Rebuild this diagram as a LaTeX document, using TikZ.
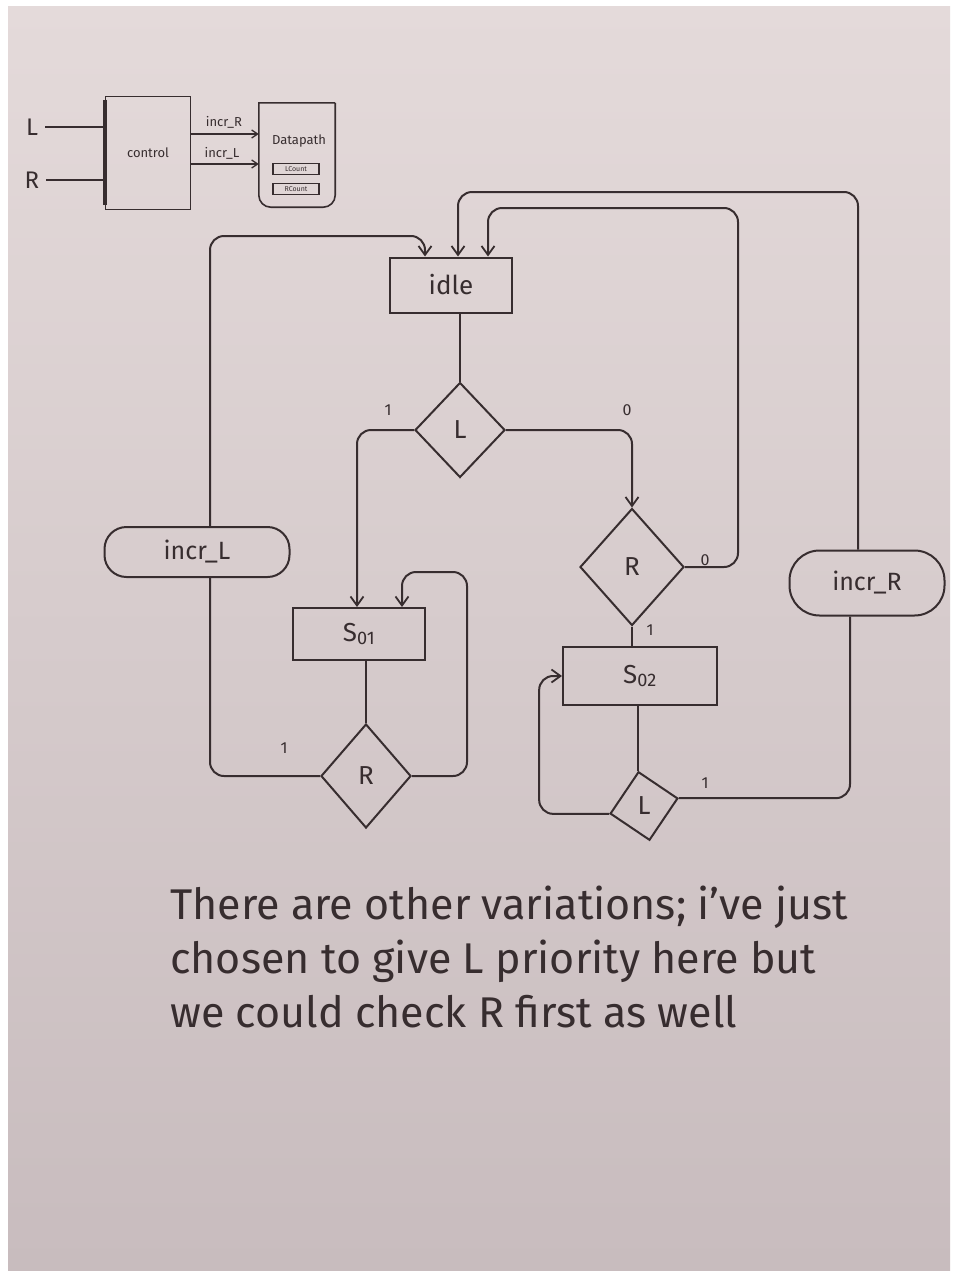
\documentclass[tikz,border=0pt]{standalone}
\usepackage{fontspec}
\setmainfont{Fira Sans}
\usetikzlibrary{arrows.meta,shapes.geometric,calc}
\definecolor{ink}{RGB}{55,45,47}
\definecolor{papertop}{RGB}{228,218,218}
\definecolor{paperbot}{RGB}{200,188,190}
\begin{document}
\begin{tikzpicture}[x=1pt,y=-1pt,
  conn/.style={draw=ink, line width=2pt, rounded corners=14pt},
  arr/.style={conn, -{Straight Barb[length=9pt,width=13pt,line width=1.8pt]}},
  arrsmall/.style={draw=ink, line width=1.5pt, -{Straight Barb[length=6pt,width=8pt,line width=1.3pt]}},
  state/.style={draw=ink, line width=2pt, rectangle, inner sep=0pt, text=ink, font=\fontsize{26}{30}\selectfont},
  dec/.style={draw=ink, line width=2pt, diamond, inner sep=0pt, text=ink, font=\fontsize{26}{30}\selectfont},
  cond/.style={draw=ink, line width=2pt, rectangle, rounded corners=22pt, inner sep=0pt, text=ink, font=\fontsize{25}{30}\selectfont},
  lbl/.style={text=ink, font=\fontsize{16}{18}\selectfont, inner sep=1pt},
  small/.style={text=ink, font=\fontsize{13}{15}\selectfont, inner sep=1pt}
]
\useasboundingbox (0,0) rectangle (954,1274);
\fill[white] (0,0) rectangle (954,1274);
\shade[top color=papertop, bottom color=paperbot] (8,6) rectangle (950,1270);

% ---------- top-left block diagram ----------
\node[draw=ink, line width=1.6pt, minimum width=85, minimum height=113, inner sep=0pt, small] (ctrl) at (148,153) {control};
\draw[ink, line width=4pt] ([yshift=-4]ctrl.north west) -- ([yshift=5]ctrl.south west);
\node[text=ink, font=\fontsize{24}{28}\selectfont, inner sep=1pt] (Lin) at (32,127) {L};
\node[text=ink, font=\fontsize{24}{28}\selectfont, inner sep=1pt] (Rin) at (32,180) {R};
\draw[draw=ink, line width=1.6pt] ([xshift=6]Lin.east) -- (Lin.east -| ctrl.west);
\draw[draw=ink, line width=1.6pt] ([xshift=6]Rin.east) -- (Rin.east -| ctrl.west);

\node[minimum width=76, minimum height=104, inner sep=0pt] (dp) at (297,155) {};
\draw[draw=ink, line width=1.6pt] (dp.north east) -- (dp.north west) [rounded corners=12pt] -- (dp.south west) -- (dp.south east) -- (dp.north east);
\node[small] (dpt) at (299,141) {Datapath};
\node[draw=ink, line width=1.2pt, minimum width=46, minimum height=11, inner sep=0pt, text=ink, font=\fontsize{7}{8}\selectfont] (lc) at (296,169) {LCount};
\node[draw=ink, line width=1.2pt, minimum width=46, minimum height=11, inner sep=0pt, text=ink, font=\fontsize{7}{8}\selectfont] (rc) at (296,189) {RCount};

\draw[arrsmall] (ctrl.east |- 0,134) -- (dp.west |- 0,134);
\draw[arrsmall] (ctrl.east |- 0,164) -- (dp.west |- 0,164);
\node[small] (lr) at (224,122) {incr\_R};
\node[small] (ll) at (222,153) {incr\_L};

% ---------- ASM chart ----------
\node[state, minimum width=122, minimum height=55] (idle) at (451,285) {idle};
\node[dec, minimum width=90, minimum height=95] (L1) at (460,430) {L};
\node[dec, minimum width=104, minimum height=117] (R1) at (632,567) {R};
\node[state, minimum width=132, minimum height=52] (S01) at (359,634) {S\textsubscript{01}};
\node[dec, minimum width=90, minimum height=104] (R2) at (366,776) {R};
\node[state, minimum width=154, minimum height=58] (S02) at (640,676) {S\textsubscript{02}};
\node[draw=ink, line width=2pt, rectangle, minimum width=47, minimum height=50, inner sep=0pt, rotate=-34] (L2) at (644,806) {};
\node[text=ink, font=\fontsize{26}{30}\selectfont] (L2t) at (L2.center) {L};
\node[cond, minimum width=185, minimum height=50] (incrL) at (197,552) {incr\_L};
\node[cond, rounded corners=30pt, minimum width=155, minimum height=65] (incrR) at (867,583) {incr\_R};

\coordinate (in1) at (idle.north -| 425,0);
\coordinate (in2) at (idle.north -| 458,0);
\coordinate (in3) at (idle.north -| 488,0);
\coordinate (ltop) at ([xshift=13]incrL.north);
\coordinate (lbot) at ([xshift=13]incrL.south);
\coordinate (rtop) at ([xshift=-9]incrR.north);
\coordinate (rbot) at ([xshift=-17]incrR.south);
\coordinate (s1a) at ([xshift=-2]S01.north);
\coordinate (s1b) at (S01.north -| 402,0);

% idle -> L
\draw[conn] (idle.south -| L1.north) -- (L1.north);
% L = 1 -> S01
\draw[arr] (L1.west) -| (s1a);
\node[lbl] (l1one) at (388,410) {1};
% L = 0 -> R
\draw[arr] (L1.east) -| (R1.north);
\node[lbl] (l1zero) at (627,410) {0};
% R = 0 -> idle
\draw[arr] (R1.east) -- (738,567) -- (738,208) -- (in3 |- 0,208) -- (in3);
\node[lbl] (r1zero) at (705,560) {0};
% R = 1 -> S02
\draw[conn] (R1.south) -- (R1.south |- S02.north);
\node[lbl] (r1one) at (650,630) {1};
% incr_R -> idle
\draw[arr] (rtop) -- (rtop |- 0,192) -- (in2 |- 0,192) -- (in2);
% incr_L -> idle
\draw[arr] (ltop) -- (ltop |- 0,236) -- (in1 |- 0,236) -- (in1);
% S01 -> R
\draw[conn] (S01.south -| R2.north) -- (R2.north);
% R = 1 -> incr_L
\draw[conn] (R2.west) -| (lbot);
\node[lbl] (r2one) at (284,748) {1};
% R = 0 -> S01
\draw[arr] (R2.east) -- (467,776) -- (467,572) -- (s1b |- 0,572) -- (s1b);
% S02 -> L
\draw[conn] (L2.north west |- S02.south) -- (L2.north west);
% L = 0 -> S02
\draw[arr] (L2.south west) -- ++(-70,0) |- (S02.west);
% L = 1 -> incr_R
\draw[conn] (L2.north east) -| (rbot);
\node[lbl] (l2one) at (705,783) {1};

% ---------- note ----------
\node[text=ink, font=\fontsize{43}{54}\selectfont, align=left, anchor=north west, inner sep=0pt] (note) at (170,886)
  {There are other variations; i've just\\chosen to give L priority here but\\we could check R first as well};
\end{tikzpicture}
\end{document}
